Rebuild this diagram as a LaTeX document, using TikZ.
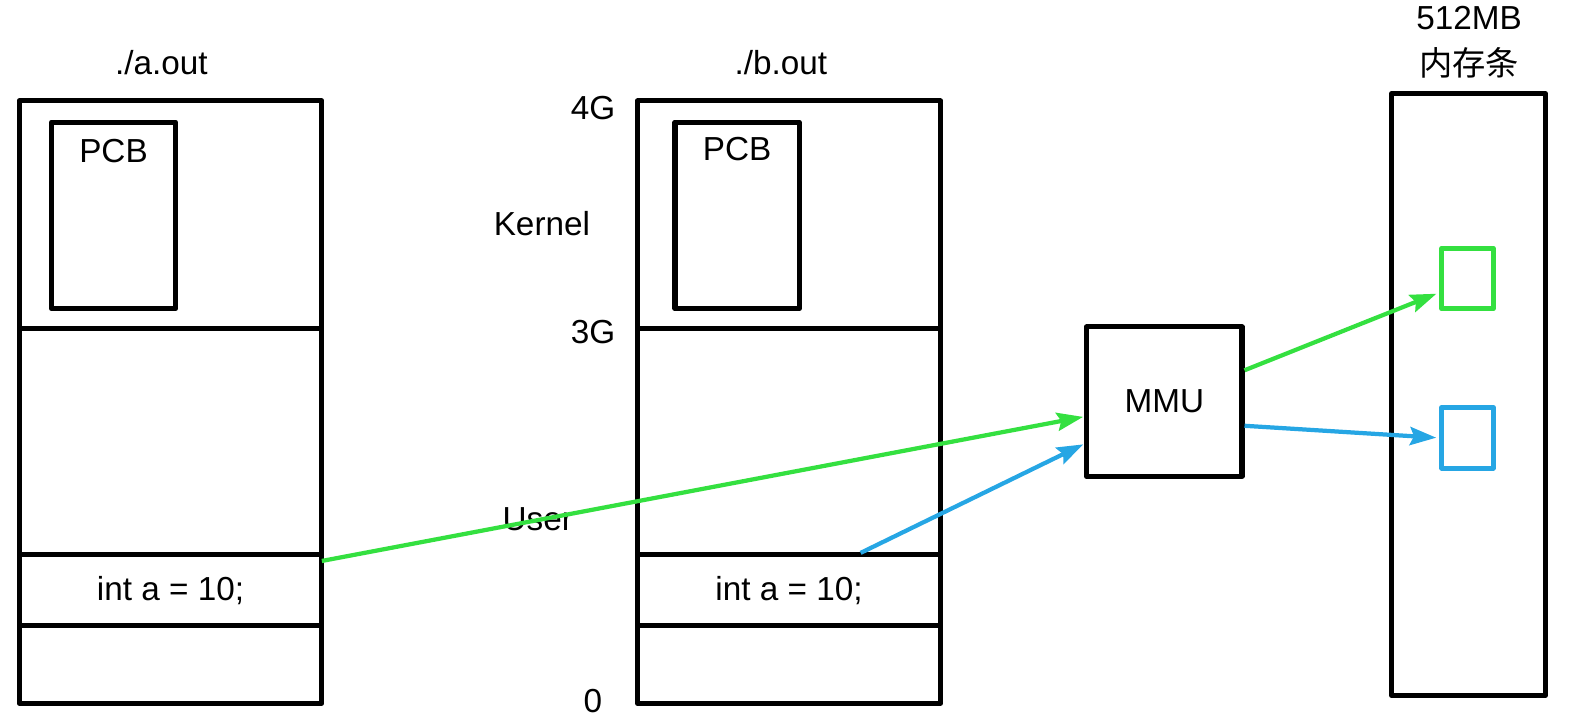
\documentclass[tikz,border=0pt]{standalone}
\usepackage{fontspec}
\setmainfont{Liberation Sans}
\newfontfamily\cjk{Noto Sans CJK SC}
\usetikzlibrary{arrows.meta,calc}
\definecolor{gline}{RGB}{52,224,64}
\definecolor{bline}{RGB}{38,166,228}
\begin{document}
\begin{tikzpicture}[x=1pt,y=-1pt,
  every node/.style={font=\fontsize{33}{40}\selectfont},
  seg/.style={draw, line width=5pt, line join=round, minimum width=300pt, inner sep=0pt, outer sep=0pt, anchor=north west},
  pcbbox/.style={draw, line width=5pt, line join=round, minimum width=123pt, minimum height=185pt, inner sep=0pt, outer sep=0pt, anchor=north west},
  box/.style={draw, line width=5pt, line join=round, inner sep=0pt},
  cell/.style={draw, line width=5pt, line join=round, minimum width=51pt, minimum height=60pt, inner sep=0pt},
  lbl/.style={inner sep=0pt},
  garrow/.style={draw=gline, line width=4.2pt, -{Stealth[length=26pt,width=18pt,inset=4pt]}},
  barrow/.style={draw=bline, line width=4.2pt, -{Stealth[length=26pt,width=18pt,inset=4pt]}}
]
\useasboundingbox (0,0) rectangle (1568,712);

% ./a.out
\node[lbl] (atitle) at (160,62) {./a.out};
\node[seg, minimum height=226pt] (ak) at (19,100) {};
\node[seg, minimum height=224pt] (au) at (19,326) {};
\node[seg, minimum height=70pt] (ad) at (19,550) {int a = 10;};
\node[seg, minimum height=77pt] (ab) at (19,620) {};
\node[pcbbox] (apcb) at (51,121) {};
\node[lbl] (apcbt) at ($(apcb.north)+(0,29)$) {PCB};

% ./b.out
\node[lbl] (btitle) at (774,62) {./b.out};
\node[seg, minimum height=226pt] (bk) at (632,100) {};
\node[seg, minimum height=224pt] (bu) at (632,326) {};
\node[seg, minimum height=70pt] (bd) at (632,550) {int a = 10;};
\node[seg, minimum height=77pt] (bb) at (632,620) {};
\node[pcbbox] (bpcb) at (669,121) {};
\node[lbl] (bpcbt) at ($(bpcb.north)+(0,27)$) {PCB};

% address labels
\node[lbl, anchor=east] (l4g) at (610,107) {4G};
\node[lbl, anchor=east] (lkern) at (585,222) {Kernel};
\node[lbl, anchor=east] (l3g) at (610,329) {3G};
\node[lbl, anchor=east] (luser) at (568,515) {User};
\node[lbl, anchor=east] (l0) at (597,695) {0};

% MMU
\node[box, minimum width=154pt, minimum height=148pt] (mmu) at (1154,398) {MMU};

% memory
\node[lbl] (memt1) at (1456,18) {512MB};
\node[lbl] (memt2) at (1456,62) {\cjk 内存条};
\node[box, minimum width=153pt, minimum height=596pt] (mem) at (1455.5,391) {};
\node[cell, draw=gline] (gcell) at (1454.5,276) {};
\node[cell, draw=bline] (bcell) at (1454.5,434) {};

% connectors
\draw[garrow, shorten >=1pt] ([yshift=-6pt]ad.north east) -- ([yshift=-15pt]mmu.west);
\draw[barrow, shorten >=1pt] ([xshift=71pt,yshift=2pt]bd.north) -- ([yshift=-42pt]mmu.west);
\draw[garrow, shorten >=3pt] ([yshift=31pt]mmu.east) -- ([yshift=-14pt]gcell.west);
\draw[barrow, shorten >=3pt] ([yshift=-24pt]mmu.east) -- (bcell.west);
\end{tikzpicture}
\end{document}
